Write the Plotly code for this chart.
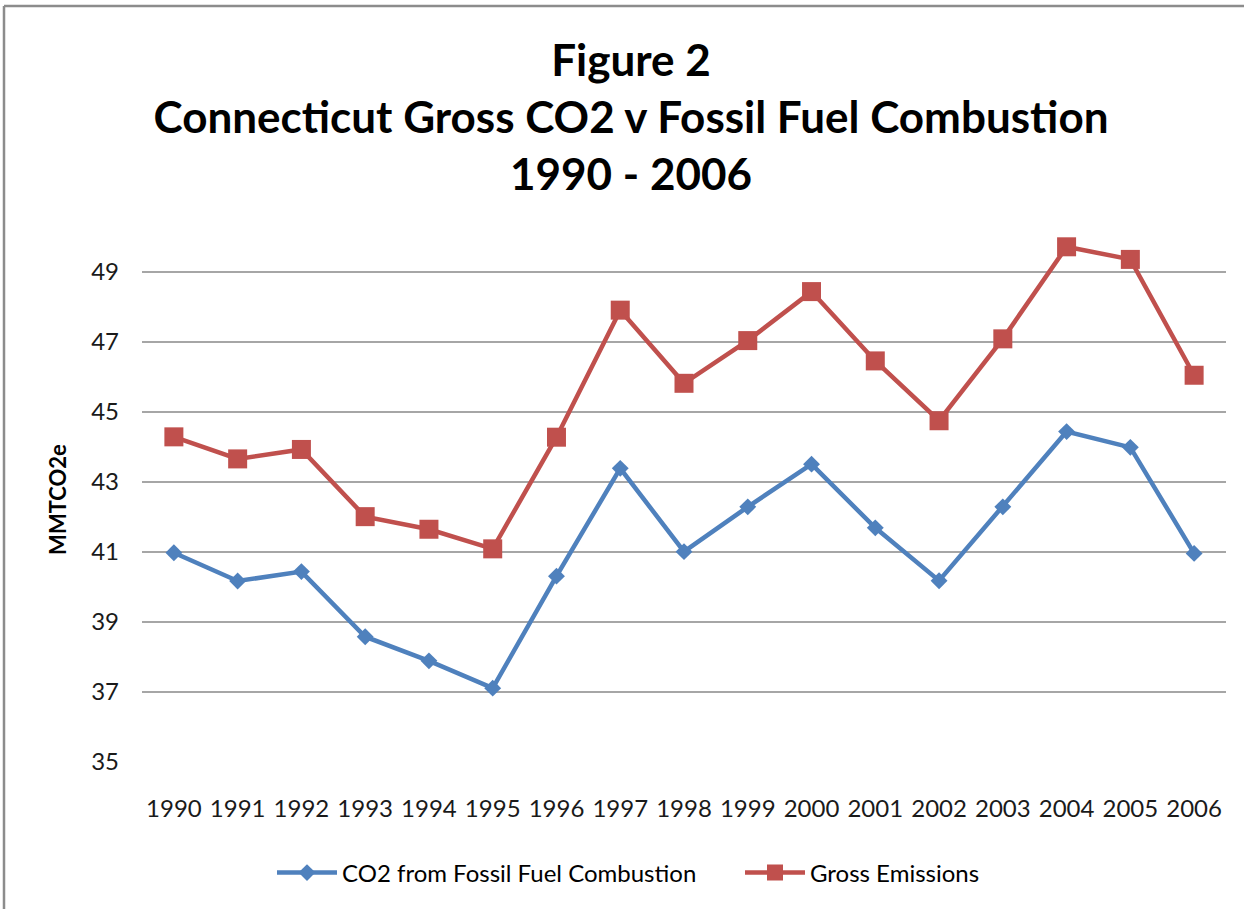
import plotly.graph_objects as go

years = ["1990", "1991", "1992", "1993", "1994", "1995", "1996", "1997", "1998",
         "1999", "2000", "2001", "2002", "2003", "2004", "2005", "2006"]
fossil_fuel = [40.98, 40.17, 40.44, 38.58, 37.89, 37.11, 40.31, 43.39, 41.01,
               42.29, 43.51, 41.69, 40.18, 42.29, 44.44, 43.99, 40.96]
gross_emissions = [44.29, 43.66, 43.93, 42.01, 41.65, 41.09, 44.28, 47.91, 45.82,
                   47.04, 48.44, 46.46, 44.75, 47.09, 49.72, 49.36, 46.05]
y_ticks = [35, 37, 39, 41, 43, 45, 47, 49]

W, H = 1244, 909
L, R, T, B = 142, 18, 237, 147
pw, ph = W - L - R, H - T - B

fig = go.Figure()
fig.add_trace(go.Scatter(
    x=years, y=fossil_fuel, name="CO2 from Fossil Fuel Combustion",
    mode="lines+markers",
    line=dict(color="#4F81BD", width=4.5),
    marker=dict(symbol="diamond", size=13, color="#4F81BD"),
    legend="legend",
))
fig.add_trace(go.Scatter(
    x=years, y=gross_emissions, name="Gross Emissions",
    mode="lines+markers",
    line=dict(color="#C0504D", width=4.5),
    marker=dict(symbol="square", size=19, color="#C0504D"),
    legend="legend2",
))

font_main = "Lato, 'Open Sans', sans-serif"
legend_y = -(873 - (T + ph)) / ph

fig.update_layout(
    width=W, height=H,
    margin=dict(l=L, r=R, t=T, b=B, autoexpand=False),
    paper_bgcolor="white", plot_bgcolor="white",
    font=dict(family=font_main, color="#000000", size=24),
    title=dict(
        text="Figure 2<br>Connecticut Gross CO2 v Fossil Fuel Combustion<br>1990 - 2006",
        x=631 / W, xanchor="center", xref="container",
        y=1 - 76 / H, yanchor="top", yref="container",
        font=dict(family=font_main, size=44, color="#000000", weight="bold"),
    ),
    xaxis=dict(
        type="category", range=[-0.5, 16.5],
        showgrid=False, showline=False, zeroline=False, ticks="",
        ticklabelstandoff=30,
        tickfont=dict(size=24, color="#1a1a1a"),
    ),
    yaxis=dict(
        range=[35, 50], tickvals=y_ticks,
        showgrid=True, gridcolor="#A6A6A6", gridwidth=1.5,
        showline=False, zeroline=False, ticks="",
        ticklabelstandoff=22,
        tickfont=dict(size=24, color="#1a1a1a"),
        title=dict(text="<b>MMTCO2e</b>", font=dict(size=22, color="#000000"), standoff=18),
    ),
    legend=dict(
        orientation="h", x=(272 - L) / pw, xanchor="left",
        y=legend_y, yanchor="middle",
        font=dict(size=24, color="#000000"),
        itemwidth=60,
        bgcolor="rgba(0,0,0,0)",
    ),
    legend2=dict(
        orientation="h", x=(740 - L) / pw, xanchor="left",
        y=legend_y, yanchor="middle",
        font=dict(size=24, color="#000000"),
        itemwidth=60,
        bgcolor="rgba(0,0,0,0)",
    ),
    showlegend=True,
    shapes=[
        dict(type="line", xref="paper", yref="paper",
             x0=(4 - L) / pw, x1=(W + 10 - L) / pw,
             y0=1 + (T - 6) / ph, y1=1 + (T - 6) / ph,
             line=dict(color="#8C8C8C", width=2.5)),
        dict(type="line", xref="paper", yref="paper",
             x0=(4 - L) / pw, x1=(4 - L) / pw,
             y0=1 + (T - 6) / ph, y1=-(H + 10 - T - ph) / ph,
             line=dict(color="#8C8C8C", width=2.5)),
    ],
)

fig.write_html("out.html", config={"displayModeBar": False},
               post_script="document.body.style.margin='0';")
